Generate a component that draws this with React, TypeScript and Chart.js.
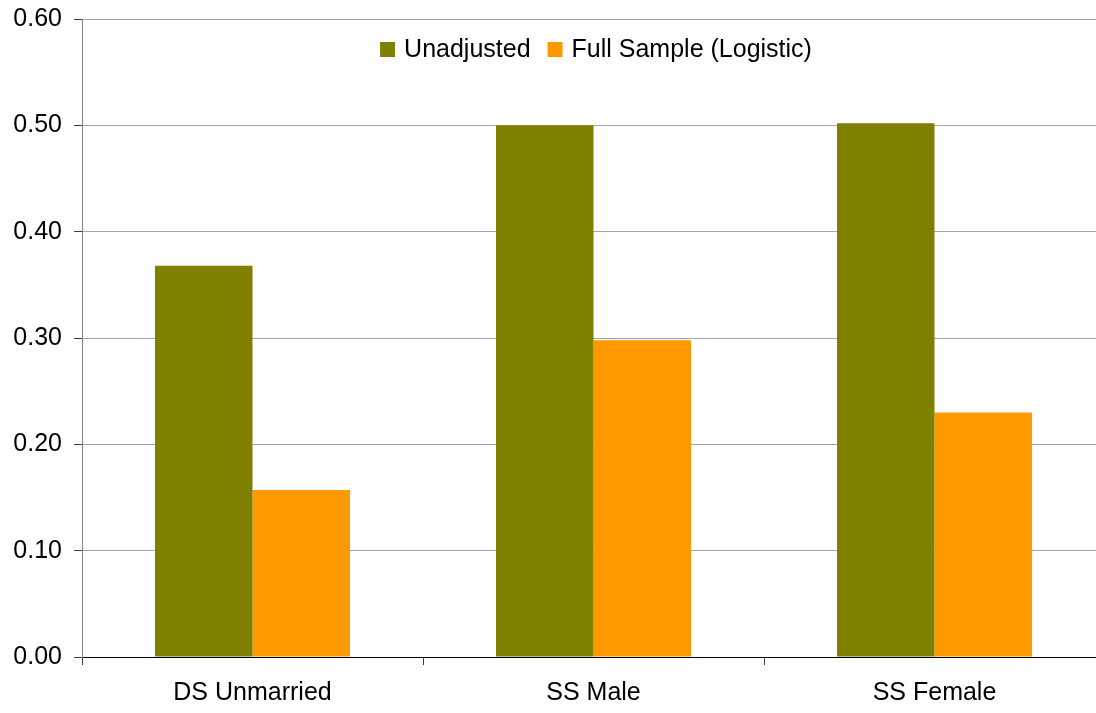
import React, { useEffect, useRef } from "react";
import { Chart, registerables } from "chart.js";

Chart.register(...registerables);

const categories = ["DS Unmarried", "SS Male", "SS Female"];
const unadjusted = [0.368, 0.5, 0.502];
const fullSampleLogistic = [0.157, 0.298, 0.23];
const seriesLabels = ["Unadjusted", "Full Sample (Logistic)"];
const seriesColors = ["#808000", "#FF9900"];

const FONT = "'Liberation Sans', Arial, sans-serif";
const FS = 25;

const inlineLegend = {
  id: "inlineLegend",
  afterDraw(chart: any) {
    const { ctx, data } = chart;
    ctx.save();
    ctx.font = `${FS}px ${FONT}`;
    ctx.textBaseline = "middle";
    ctx.textAlign = "left";
    const box = 15;
    const gap = 9;
    const itemGap = 17;
    const items = data.datasets.map((d: any) => ({
      label: d.label,
      color: d.backgroundColor,
      w: ctx.measureText(d.label).width,
    }));
    let total = 0;
    items.forEach((it: any, i: number) => {
      total += box + gap + it.w + (i > 0 ? itemGap : 0);
    });
    const cx = 596;
    let x = cx - total / 2;
    const y = 49.5;
    items.forEach((it: any) => {
      ctx.fillStyle = it.color;
      ctx.fillRect(x, y - box / 2, box, box);
      ctx.fillStyle = "#000";
      ctx.fillText(it.label, x + box + gap, y + 1);
      x += box + gap + it.w + itemGap;
    });
    ctx.restore();
  },
};

export default function App() {
  const ref = useRef<HTMLCanvasElement>(null);
  useEffect(() => {
    if (!ref.current) return;
    const chart = new Chart(ref.current, {
      type: "bar",
      data: {
        labels: categories,
        datasets: [
          {
            label: seriesLabels[0],
            data: unadjusted,
            backgroundColor: seriesColors[0],
            categoryPercentage: 0.572,
            barPercentage: 1.0,
          },
          {
            label: seriesLabels[1],
            data: fullSampleLogistic,
            backgroundColor: seriesColors[1],
            categoryPercentage: 0.572,
            barPercentage: 1.0,
          },
        ],
      },
      plugins: [inlineLegend],
      options: {
        animation: false,
        responsive: true,
        maintainAspectRatio: false,
        layout: { padding: { left: 0, right: 0, top: 19, bottom: 0 } },
        plugins: {
          tooltip: { enabled: false },
          legend: { display: false },
        },
        scales: {
          x: {
            afterFit: (scale: any) => {
              scale.height = 56;
              scale.paddingLeft = 0;
              scale.paddingRight = 0;
            },
            grid: {
              display: true,
              offset: true,
              drawOnChartArea: false,
              drawTicks: true,
              tickLength: 8,
              tickColor: "#404040",
            },
            border: { color: "#000", width: 1 },
            ticks: {
              color: "#000",
              padding: 13,
              font: { family: FONT, size: FS },
            },
          },
          y: {
            min: 0,
            max: 0.6,
            afterFit: (scale: any) => {
              scale.width = 82;
              scale.paddingTop = 0;
              scale.paddingBottom = 0;
            },
            grid: {
              color: "#a6a6a6",
              tickColor: "#404040",
              tickLength: 8,
            },
            border: { color: "#808080", width: 1 },
            ticks: {
              stepSize: 0.1,
              color: "#000",
              padding: 12,
              font: { family: FONT, size: FS },
              callback: (v: any) => Number(v).toFixed(2),
            },
          },
        },
      },
    });
    return () => chart.destroy();
  }, []);
  return (
    <div style={{ position: "fixed", left: 0, top: 0, width: 1096, height: 713, overflow: "hidden", background: "#fff" }}>
      <div style={{ position: "absolute", left: 0, top: 0, width: 1105, height: 713 }}>
        <canvas ref={ref} />
      </div>
    </div>
  );
}
